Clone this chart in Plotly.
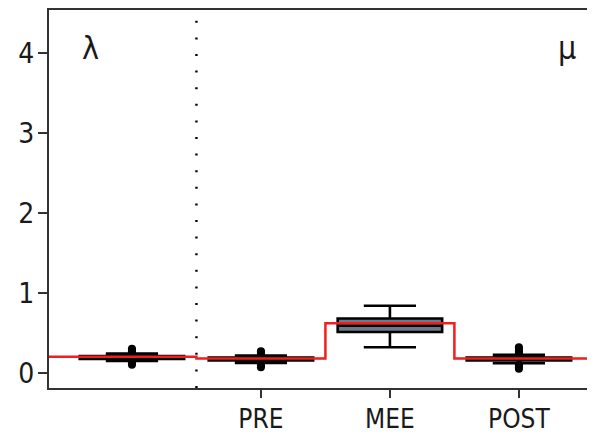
import plotly.graph_objects as go

# ---- data ----
groups = ["λ", "PRE", "MEE", "POST"]
tick_labels = ["", "PRE", "MEE", "POST"]
lowerfence = [0.15, 0.125, 0.32, 0.12]
q1 = [0.175, 0.155, 0.51, 0.155]
median = [0.19, 0.17, 0.59, 0.17]
q3 = [0.21, 0.19, 0.68, 0.19]
upperfence = [0.24, 0.215, 0.84, 0.225]
outliers = {
    "λ": [0.10, 0.12, 0.13, 0.26, 0.27, 0.29, 0.30],
    "PRE": [0.07, 0.09, 0.10, 0.23, 0.24, 0.26, 0.27],
    "MEE": [],
    "POST": [0.05, 0.07, 0.09, 0.10, 0.24, 0.26, 0.28, 0.30, 0.32],
}
fill_colors = ["#000000", "#000000", "#6C7B8B", "#000000"]
fitted = [0.20, 0.18, 0.62, 0.18]

FONT = "DejaVu Sans Condensed, Liberation Sans Narrow, Liberation Sans"
XMIN, XMAX = -0.643, 3.59

fig = go.Figure()
pos = list(range(len(groups)))
for i, g in enumerate(groups):
    fig.add_trace(go.Box(
        x=[pos[i]], q1=[q1[i]], median=[median[i]], q3=[q3[i]],
        lowerfence=[lowerfence[i]], upperfence=[upperfence[i]],
        width=0.81, whiskerwidth=0.5, fillcolor=fill_colors[i],
        line=dict(color="black", width=2.6), boxpoints=False, showlegend=False,
    ))
    if outliers[g]:
        fig.add_trace(go.Scatter(
            x=[pos[i]] * len(outliers[g]), y=outliers[g], mode="markers",
            marker=dict(color="black", size=8), showlegend=False,
        ))

# fitted step line
sx = [XMIN] + [p + 0.5 for p in pos[:-1]] + [XMAX]
sy = fitted + [fitted[-1]]
fig.add_trace(go.Scatter(x=sx, y=sy, mode="lines", line=dict(color="#F01E1E", width=2.5, shape="hv"),
                         showlegend=False))

fig.add_shape(type="line", x0=0.5, x1=0.5, y0=0, y1=1, yref="paper", xref="x",
              line=dict(color="black", width=2.4, dash="2px,14.6px"))

fig.add_annotation(text="λ", x=0.076, y=0.9, xref="paper", yref="paper", showarrow=False,
                   font=dict(family=FONT, size=32, color="#1a1a1a"), xanchor="center", yanchor="middle")
fig.add_annotation(text="μ", x=0.949, y=0.9, xref="paper", yref="paper", showarrow=False,
                   font=dict(family=FONT, size=32, color="#1a1a1a"), xanchor="center", yanchor="middle")

# page body has an 8px margin, so the figure is 8px smaller and offset
fig.update_layout(
    width=587, height=427,
    margin=dict(l=41, r=0, t=2, b=47),
    plot_bgcolor="white", paper_bgcolor="white",
    font=dict(family=FONT, size=28, color="#1a1a1a"),
    xaxis=dict(range=[XMIN, XMAX], tickvals=[1, 2, 3], ticktext=tick_labels[1:],
               tickfont=dict(size=26),
               showline=True, linecolor="#333", linewidth=2, mirror=True,
               ticks="outside", ticklen=8, tickwidth=2, tickcolor="#333",
               showgrid=False, zeroline=False, automargin=False, ticklabelstandoff=-1),
    yaxis=dict(range=[-0.19, 4.54], tickvals=[0, 1, 2, 3, 4],
               showline=True, linecolor="#333", linewidth=2,
               ticks="outside", ticklen=9, tickwidth=2, tickcolor="#333",
               showgrid=False, zeroline=False, ticklabelstandoff=-2, automargin=False),
)
fig.write_html("out.html")
